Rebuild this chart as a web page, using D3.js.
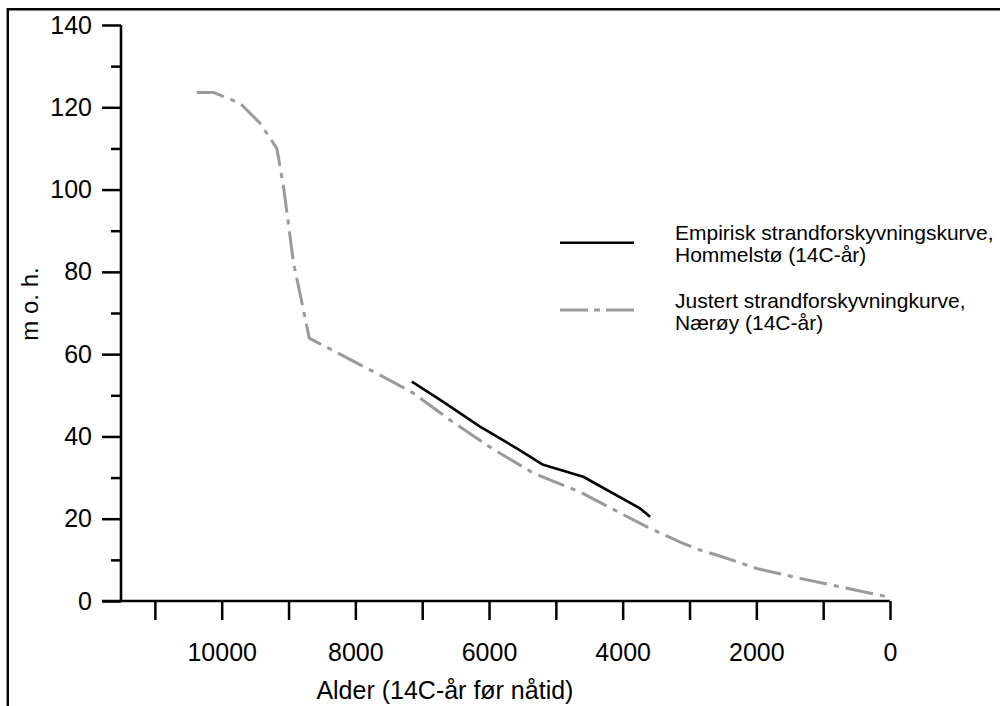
<!DOCTYPE html>
<html>
<head>
<meta charset="utf-8">
<script src="https://cdn.jsdelivr.net/npm/d3@7"></script>
<style>
  html, body { margin: 0; padding: 0; background: #fff; }
  svg { display: block; font-family: "Liberation Sans", Arial, sans-serif; }
</style>
</head>
<body>
<svg id="chart" width="1000" height="706"></svg>
<script>
// ---- data ----
const naeroyAge    = [10375, 10125, 9725, 9425, 9175, 9075, 8925, 8850, 8690, 7630, 7140, 6585, 5985, 5340, 4640, 4040, 3635, 3140, 2845, 2500, 1995, 1345, 0];
const naeroyHeight = [123.6, 123.6, 121.0, 116.1, 110.0, 100.7, 82.1, 76.4, 63.9, 54.9, 50.6, 44.0, 37.4, 31.1, 26.5, 21.4, 18.0, 14.3, 12.4, 10.7, 7.9, 5.5, 0.9];

const hommelstoAge    = [7155, 6685, 6135, 5585, 5190, 4590, 3740, 3590];
const hommelstoHeight = [53.3, 48.4, 42.4, 37.1, 33.1, 30.2, 22.5, 20.5];

const yTicksMajor = [0, 20, 40, 60, 80, 100, 120, 140];
const yTicksMinor = [10, 30, 50, 70, 90, 110, 130];
const xTicks      = [11000, 10000, 9000, 8000, 7000, 6000, 5000, 4000, 3000, 2000, 1000, 0];
const xTickLabels = [10000, 8000, 6000, 4000, 2000, 0];

const xTitle = "Alder (14C-år før nåtid)";
const yTitle = "m o. h.";
const legendItems = [
  {lines: ["Empirisk strandforskyvningskurve,", "Hommelstø (14C-år)"], key: "hommelsto"},
  {lines: ["Justert strandforskyvningkurve,", "Nærøy (14C-år)"], key: "naeroy"}
];

// ---- layout ----
const svg = d3.select("#chart");
const x = d3.scaleLinear().domain([11507, 0]).range([121, 890]);
const y = d3.scaleLinear().domain([0, 140]).range([601, 25]);

const styles = {
  hommelsto: {stroke: "#000", width: 2.6, dash: null},
  naeroy: {stroke: "#9a9a9a", width: 3, dash: "28,7,5,7"}
};

// outer frame (only top and left edges visible)
svg.append("line").attr("x1", 8).attr("y1", 9.3).attr("x2", 1000).attr("y2", 9.3)
  .attr("stroke", "#000").attr("stroke-width", 2.6);
svg.append("line").attr("x1", 7.8).attr("y1", 8).attr("x2", 7.8).attr("y2", 706)
  .attr("stroke", "#000").attr("stroke-width", 2.4);

// y axis
const yAxisMajor = d3.axisLeft(y).tickValues(yTicksMajor).tickSize(19).tickPadding(10).tickFormat(d3.format("d"));
const gy = svg.append("g").attr("transform", "translate(121,0)").call(yAxisMajor);
const yAxisMinor = d3.axisLeft(y).tickValues(yTicksMinor).tickSize(10).tickFormat("");
const gy2 = svg.append("g").attr("transform", "translate(121,0)").call(yAxisMinor);
gy2.select(".domain").remove();

// x axis
const xAxis = d3.axisBottom(x).tickValues(xTicks).tickSize(19).tickPadding(0)
  .tickFormat(d => xTickLabels.includes(d) ? String(d) : "");
const gx = svg.append("g").attr("transform", "translate(0,601)").call(xAxis);

[gy, gy2, gx].forEach(g => {
  g.select(".domain").attr("stroke", "#000").attr("stroke-width", 2.6);
  g.selectAll(".tick line").attr("stroke", "#000").attr("stroke-width", 2.5);
});
gy.select(".domain").attr("d", `M0,${y(140)}V${y(0)}`);
gx.select(".domain").attr("d", `M${x.range()[0] - 19},0H${x(0)}`);

gy.selectAll(".tick text").attr("font-size", 25).attr("font-family", "Liberation Sans, Arial, sans-serif").attr("fill", "#000");
gx.selectAll(".tick text").attr("font-size", 25).attr("font-family", "Liberation Sans, Arial, sans-serif").attr("fill", "#000")
  .attr("dy", null).attr("y", 60);

// axis titles
svg.append("text").attr("x", x(6660)).attr("y", 699)
  .attr("text-anchor", "middle").attr("font-size", 25).text(xTitle);
svg.append("text").attr("transform", "translate(38,304) rotate(-90)")
  .attr("text-anchor", "middle").attr("font-size", 24).text(yTitle);

// curves
const line = d3.line().x(d => x(d[0])).y(d => y(d[1]));
const naeroyData = naeroyAge.map((a, i) => [a, naeroyHeight[i]]);
const hommelstoData = hommelstoAge.map((a, i) => [a, hommelstoHeight[i]]);

svg.append("path").datum(naeroyData).attr("d", line)
  .attr("fill", "none").attr("stroke", styles.naeroy.stroke).attr("stroke-width", styles.naeroy.width)
  .attr("stroke-dasharray", styles.naeroy.dash).attr("stroke-linejoin", "round");
svg.append("path").datum(hommelstoData).attr("d", line)
  .attr("fill", "none").attr("stroke", styles.hommelsto.stroke).attr("stroke-width", styles.hommelsto.width)
  .attr("stroke-linejoin", "round");

// legend
const legendY = [242.7, 310];
const textBase = [240, 308];
legendItems.forEach((item, i) => {
  const s = styles[item.key];
  svg.append("line").attr("x1", 560).attr("x2", 634).attr("y1", legendY[i]).attr("y2", legendY[i])
    .attr("stroke", s.stroke).attr("stroke-width", s.width)
    .attr("stroke-dasharray", s.dash ? "28,6,6,6" : null);
  item.lines.forEach((t, j) => {
    svg.append("text").attr("x", 675).attr("y", textBase[i] + j * 22)
      .attr("font-size", 21).attr("fill", "#000").text(t);
  });
});
</script>
</body>
</html>
